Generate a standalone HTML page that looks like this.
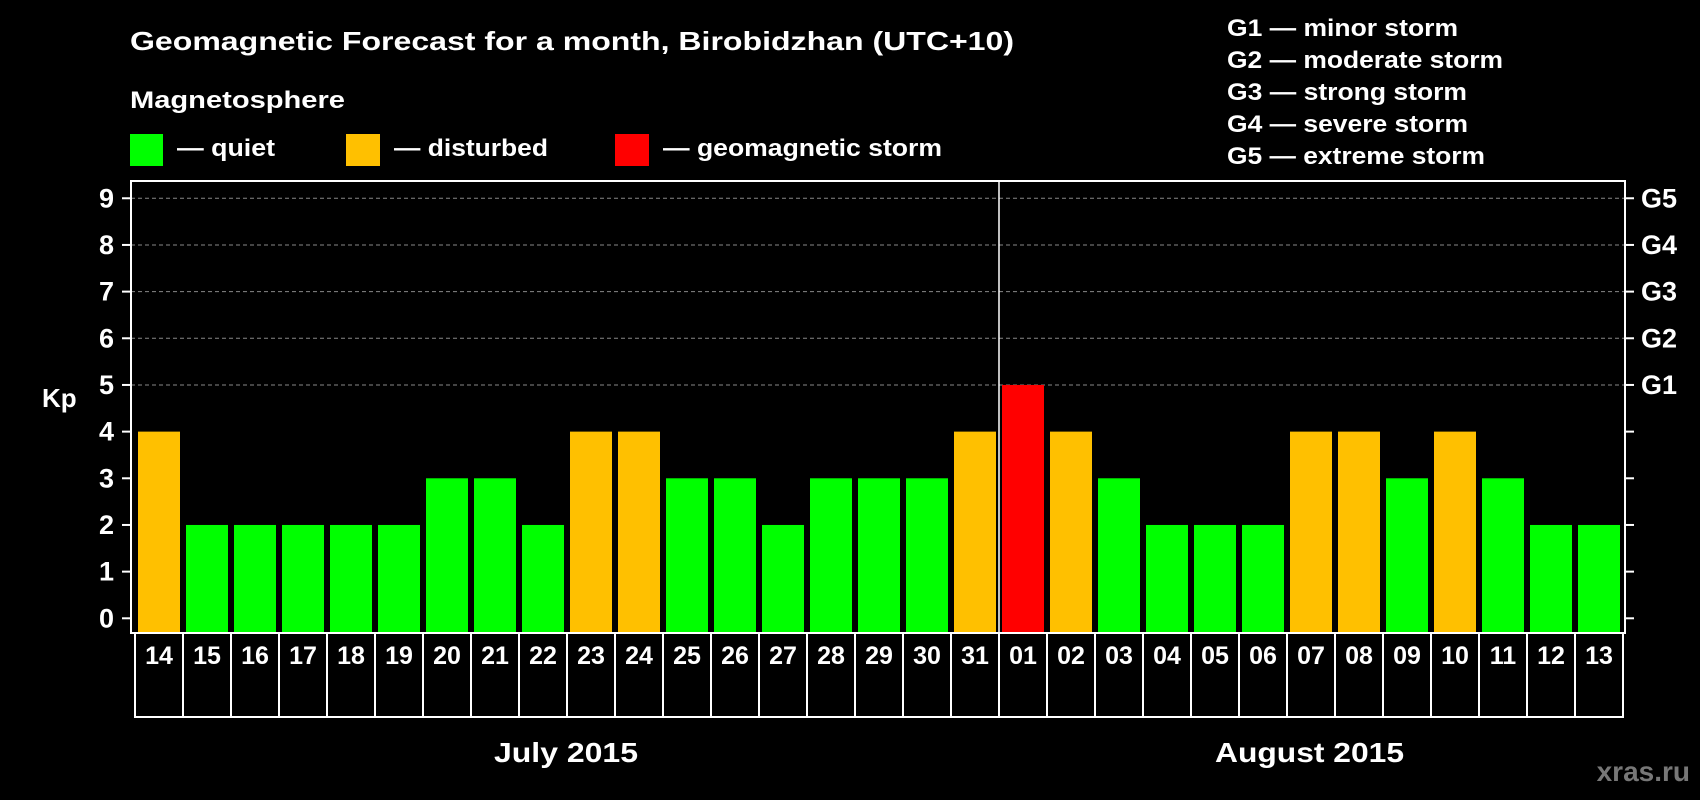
<!DOCTYPE html>
<html><head><meta charset="utf-8"><style>
body{margin:0;background:#000;width:1700px;height:800px;overflow:hidden;font-family:"Liberation Sans",sans-serif;font-weight:bold;color:#fff}
svg{display:block}
</style></head><body>
<svg width="1700" height="800">
<text x="130" y="50" font-size="26" fill="#fff" textLength="884" lengthAdjust="spacingAndGlyphs">Geomagnetic Forecast for a month, Birobidzhan (UTC+10)</text>
<text x="130" y="108" font-size="24" fill="#fff" textLength="215" lengthAdjust="spacingAndGlyphs">Magnetosphere</text>
<rect x="130" y="134" width="33" height="32" fill="#00ff00"/>
<text x="177" y="156" font-size="24" fill="#fff" textLength="98" lengthAdjust="spacingAndGlyphs">— quiet</text>
<rect x="346" y="134" width="34" height="32" fill="#ffc000"/>
<text x="394" y="156" font-size="24" fill="#fff" textLength="154" lengthAdjust="spacingAndGlyphs">— disturbed</text>
<rect x="615" y="134" width="34" height="32" fill="#ff0000"/>
<text x="663" y="156" font-size="24" fill="#fff" textLength="279" lengthAdjust="spacingAndGlyphs">— geomagnetic storm</text>
<g font-size="24" fill="#fff">
<text x="1227" y="36" textLength="231" lengthAdjust="spacingAndGlyphs">G1 — minor storm</text>
<text x="1227" y="68" textLength="276" lengthAdjust="spacingAndGlyphs">G2 — moderate storm</text>
<text x="1227" y="100" textLength="240" lengthAdjust="spacingAndGlyphs">G3 — strong storm</text>
<text x="1227" y="132" textLength="241" lengthAdjust="spacingAndGlyphs">G4 — severe storm</text>
<text x="1227" y="164" textLength="258" lengthAdjust="spacingAndGlyphs">G5 — extreme storm</text>
</g>
<text x="42" y="407" font-size="26" fill="#fff">Kp</text>
<g id="grid"></g><g id="bars"></g><g id="axes"></g>
<text x="494" y="762" font-size="28" fill="#fff" textLength="144" lengthAdjust="spacingAndGlyphs">July 2015</text>
<text x="1215" y="762" font-size="28" fill="#fff" textLength="189" lengthAdjust="spacingAndGlyphs">August 2015</text>
<text x="1690" y="781" font-size="28" fill="#777" text-anchor="end">xras.ru</text>
</svg>
<script>
const days=["14","15","16","17","18","19","20","21","22","23","24","25","26","27","28","29","30","31","01","02","03","04","05","06","07","08","09","10","11","12","13"];
const kp=[4,2,2,2,2,2,3,3,2,4,4,3,3,2,3,3,3,4,5,4,3,2,2,2,4,4,3,4,3,2,2];
const yTicks=[0,1,2,3,4,5,6,7,8,9];
const gLabels=["G1","G2","G3","G4","G5"];
const NS="http://www.w3.org/2000/svg";
const x0=135,pitch=48,y0=618.3,unit=46.67,plotTop=181,plotBot=633,plotLeft=131,plotRight=1625;
const ys=v=>y0-v*unit, xs=i=>x0+i*pitch;
function mk(t,a,p){const e=document.createElementNS(NS,t);for(const k in a)e.setAttribute(k,a[k]);p.appendChild(e);return e;}
const grid=document.getElementById('grid'),bars=document.getElementById('bars'),axes=document.getElementById('axes');
yTicks.forEach(v=>{
 if(v>=5){const l=mk('line',{x1:plotLeft,x2:plotRight,y1:ys(v),y2:ys(v),stroke:'#888','stroke-dasharray':'4 3','stroke-width':1},grid);
 
 }
 const t=mk('line',{x1:122,x2:131,y1:ys(v),y2:ys(v),stroke:'#fff','stroke-width':2},axes);
 
 
 const t2=mk('line',{x1:1625,x2:1634,y1:ys(v),y2:ys(v),stroke:'#fff','stroke-width':2},axes);
 
 
 const lb=mk('text',{x:114,y:ys(v)+9,'font-size':27,fill:'#fff','text-anchor':'end'},axes);lb.textContent=v;
 
 
});
gLabels.forEach((g,i)=>{const t=mk('text',{x:1641,y:ys(5+i)+9,'font-size':27,fill:'#fff'},axes);t.textContent=g;
 
 });
days.forEach((d,i)=>{
 const v=kp[i],c=v>=5?'#ff0000':v>=4?'#ffc000':'#00ff00';
 const r=mk('rect',{x:xs(i)+3,y:ys(v),width:42,height:y0-ys(v)+15,fill:c},bars);
 
 
 const b=mk('rect',{x:xs(i),y:plotBot,width:pitch,height:84,fill:'none',stroke:'#fff','stroke-width':2},axes);
 
 
 const t=mk('text',{x:xs(i)+pitch/2,y:plotBot+31,'font-size':25,fill:'#fff','text-anchor':'middle'},axes);t.textContent=d;
 
 
});
const fr=mk('rect',{x:plotLeft,y:plotTop,width:plotRight-plotLeft,height:plotBot-plotTop,fill:'none',stroke:'#fff','stroke-width':2},axes);


const mx=xs(days.indexOf('01'));
const mid=mk('line',{x1:mx,x2:mx,y1:plotTop,y2:plotBot,stroke:'#fff','stroke-width':1.5},axes);


</script>
</body></html>
